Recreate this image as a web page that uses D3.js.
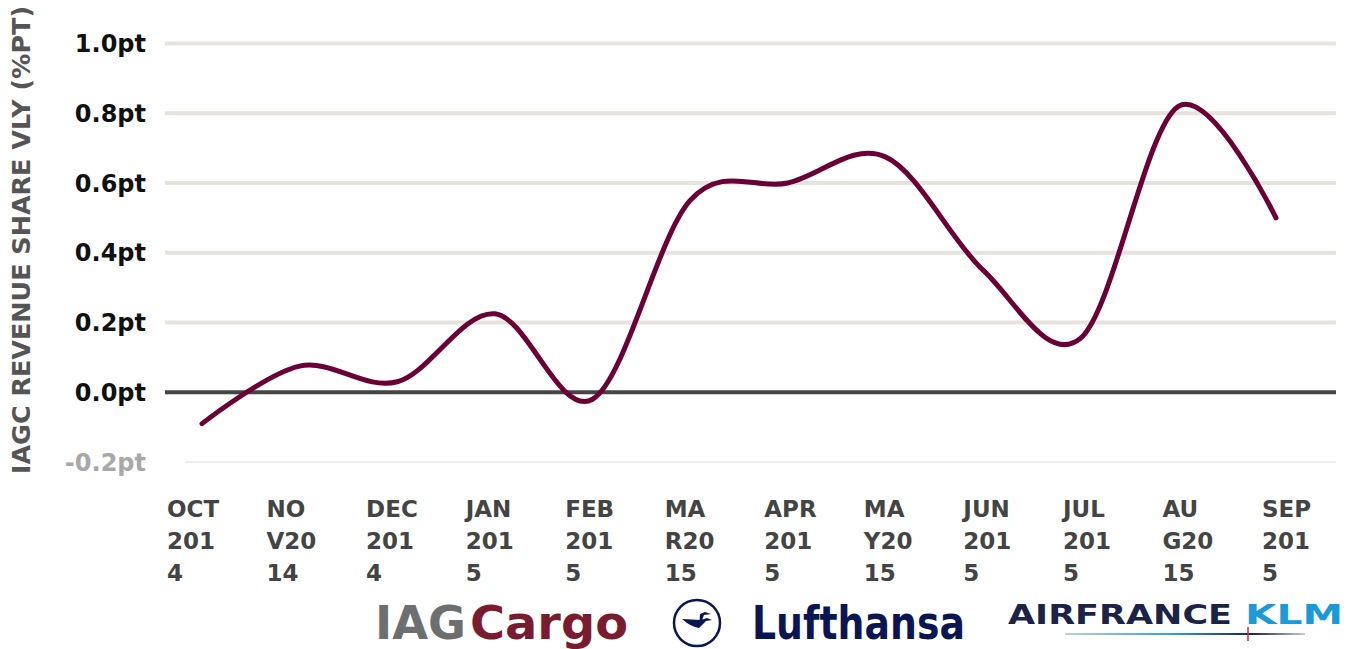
<!DOCTYPE html>
<html>
<head>
<meta charset="utf-8">
<script src="https://cdn.jsdelivr.net/npm/d3@7"></script>
<style>
  body { margin: 0; background: #fff; }
  svg { display: block; }
  text { font-family: "DejaVu Sans", sans-serif; font-weight: bold; }
</style>
</head>
<body>
<svg width="1354" height="649"></svg>
<script>
// data
let months = ['OCT 2014', 'NOV 2014', 'DEC 2014', 'JAN 2015', 'FEB 2015', 'MAR 2015',
    'APR 2015', 'MAY 2015', 'JUN 2015', 'JUL 2015', 'AUG 2015', 'SEP 2015'];
let shareVly = [-0.09, 0.075, 0.03, 0.225, -0.02, 0.55, 0.6, 0.675, 0.35, 0.155, 0.82, 0.50];
let tickLines = [['OCT', '201', '4'], ['NO', 'V20', '14'], ['DEC', '201', '4'], ['JAN', '201', '5'],
    ['FEB', '201', '5'], ['MA', 'R20', '15'], ['APR', '201', '5'], ['MA', 'Y20', '15'],
    ['JUN', '201', '5'], ['JUL', '201', '5'], ['AU', 'G20', '15'], ['SEP', '201', '5']];
let yTicks = [-0.2, 0, 0.2, 0.4, 0.6, 0.8, 1.0];
let yTitle = 'IAGC REVENUE SHARE VLY (%PT)';

let svg = d3.select('svg');

let x = d3.scalePoint()
    .domain(months)
    .range([202, 1276]);

// labels sit on their own slightly wider band
let xLabel = d3.scalePoint()
    .domain(months)
    .range([167, 1262]);

let y = d3.scaleLinear()
    .domain([-0.2, 1.0])
    .range([462, 43.5]);

// gridlines
let gGrid = svg.append('g');
gGrid.selectAll('line').data(yTicks).enter().append('line')
    .attr('x1', d => d < 0 ? 185 : 165)
    .attr('x2', 1336)
    .attr('y1', d => y(d))
    .attr('y2', d => y(d))
    .attr('stroke', d => d === 0 ? '#454545' : (d < 0 ? '#e8e8e8' : '#e6e3dc'))
    .attr('stroke-width', d => d < 0 ? 1.5 : 4);

// y tick labels
svg.append('g').selectAll('text').data(yTicks).enter().append('text')
    .attr('x', 146)
    .attr('y', d => y(d))
    .attr('dy', '0.36em')
    .attr('text-anchor', 'end')
    .attr('font-size', 24)
    .attr('fill', d => d < 0 ? '#a8a8a8' : '#111')
    .text(d => d.toFixed(1) + 'pt');

// y title
svg.append('text')
    .attr('transform', 'translate(30,240) rotate(-90)')
    .attr('text-anchor', 'middle')
    .attr('font-size', 24)
    .attr('fill', '#555')
    .attr('textLength', 468)
    .attr('lengthAdjust', 'spacingAndGlyphs')
    .text(yTitle);

// x labels, wrapped as in the original
let gX = svg.append('g');
months.forEach((m, i) => {
    let t = gX.append('text')
        .attr('font-size', 23)
        .attr('fill', '#444');
    tickLines[i].forEach((line, j) => {
        t.append('tspan')
            .attr('x', xLabel(m))
            .attr('y', 517 + j * 32)
            .text(line);
    });
});

// the series
let line = d3.line()
    .x((d, i) => x(months[i]))
    .y(d => y(d))
    .curve(d3.curveCardinal.tension(0));

svg.append('path')
    .datum(shareVly)
    .attr('d', line)
    .attr('fill', 'none')
    .attr('stroke', '#6b0037')
    .attr('stroke-width', 5)
    .attr('stroke-linecap', 'round')
    .attr('stroke-linejoin', 'round');

// airline logos along the bottom
let gLogo = svg.append('g').attr('font-family', '"Liberation Sans", Arial, sans-serif');

gLogo.append('text')
    .attr('x', 375).attr('y', 639)
    .attr('font-size', 46)
    .attr('fill', '#6d6e70')
    .attr('textLength', 91)
    .attr('lengthAdjust', 'spacingAndGlyphs')
    .text('IAG');
gLogo.append('text')
    .attr('x', 470).attr('y', 639)
    .attr('font-size', 46)
    .attr('fill', '#7a1c30')
    .attr('textLength', 158)
    .attr('lengthAdjust', 'spacingAndGlyphs')
    .text('Cargo');

// lufthansa crane
let gCrane = gLogo.append('g').attr('transform', 'translate(697,623)');
gCrane.append('circle')
    .attr('r', 23)
    .attr('fill', 'none')
    .attr('stroke', '#0b1551')
    .attr('stroke-width', 2.5);
gCrane.append('path')
    .attr('d', 'M-15,-4 Q-6,4 2,5 L9,-2 L15,-3 L10,-5 L4,-3 Z M2,5 L7,-8 L14,-9 L8,-11 L3,-9 Z')
    .attr('fill', '#0b1551');

gLogo.append('text')
    .attr('x', 752).attr('y', 639)
    .attr('font-size', 46)
    .attr('fill', '#0b1551')
    .attr('textLength', 213)
    .attr('lengthAdjust', 'spacingAndGlyphs')
    .text('Lufthansa');

gLogo.append('text')
    .attr('x', 1008).attr('y', 624)
    .attr('font-size', 27)
    .attr('fill', '#1b2346')
    .attr('textLength', 224)
    .attr('lengthAdjust', 'spacingAndGlyphs')
    .text('AIRFRANCE');
gLogo.append('text')
    .attr('x', 1245).attr('y', 624)
    .attr('font-size', 27)
    .attr('fill', '#1a9ad6')
    .attr('textLength', 98)
    .attr('lengthAdjust', 'spacingAndGlyphs')
    .text('KLM');

let grad = svg.append('defs').append('linearGradient')
    .attr('id', 'afk')
    .attr('x1', '0%').attr('x2', '100%');
grad.append('stop').attr('offset', '0%').attr('stop-color', '#c9ccd6');
grad.append('stop').attr('offset', '45%').attr('stop-color', '#2aa3d9');
grad.append('stop').attr('offset', '78%').attr('stop-color', '#1b2346');
grad.append('stop').attr('offset', '100%').attr('stop-color', '#c9ccd6');

gLogo.append('rect')
    .attr('x', 1065).attr('y', 633)
    .attr('width', 240).attr('height', 2)
    .attr('fill', 'url(#afk)');
gLogo.append('line')
    .attr('x1', 1248).attr('x2', 1248)
    .attr('y1', 627).attr('y2', 641)
    .attr('stroke', '#d12a3a')
    .attr('stroke-width', 1.5);
</script>
</body>
</html>
